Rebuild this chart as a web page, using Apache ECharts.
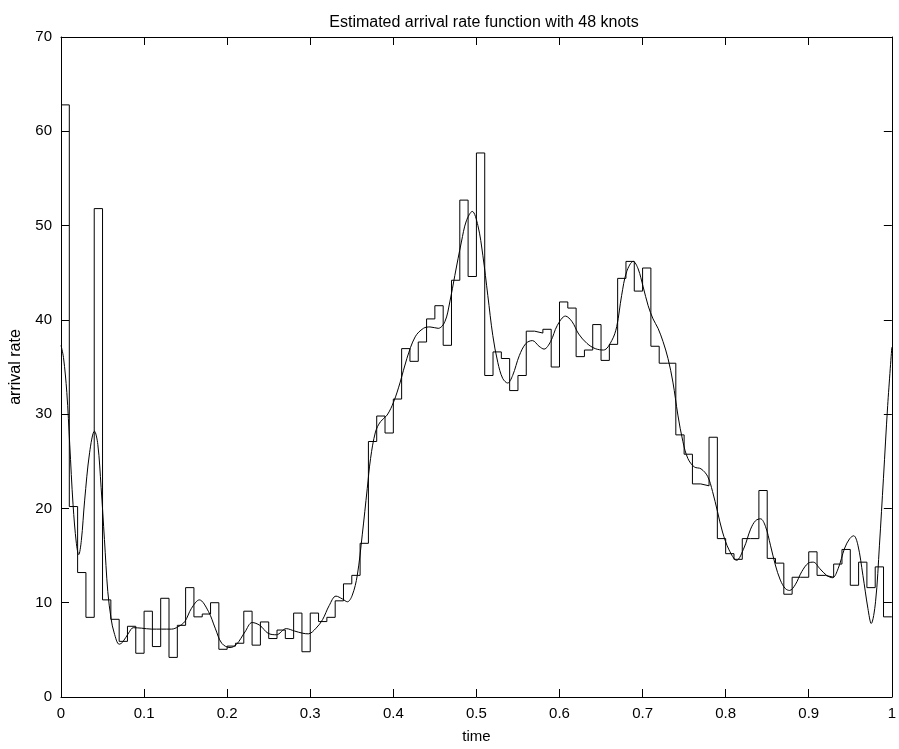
<!DOCTYPE html>
<html>
<head>
<meta charset="utf-8">
<script src="https://cdn.jsdelivr.net/npm/echarts@6/dist/echarts.min.js"></script>
<style>
html,body{margin:0;padding:0;background:#fff;overflow:hidden;}
#chart{width:899px;height:749px;}
</style>
</head>
<body>
<div id="chart"></div>
<script>
// ---- data ----
var titleText = "Estimated arrival rate function with 48 knots";
var xLabel = "time";
var yLabel = "arrival rate";
var binWidth = 0.01;
// histogram-type step estimate, one value per bin of width 0.01 starting at 0
var binValues = [
  62.8, 20.2, 13.2, 8.45, 51.8, 10.3, 8.24, 5.9, 7.5, 4.64,
  9.1, 5.35, 10.47, 4.2, 7.6, 11.6, 8.5, 8.8, 10.0, 5.06,
  5.4, 5.7, 9.1, 5.5, 7.96, 6.2, 7.1, 6.2, 8.9, 4.8,
  8.9, 8.0, 8.45, 10.2, 12.0, 12.9, 16.3, 27.1, 29.8, 28.0,
  31.6, 36.95, 35.6, 37.65, 40.1, 41.5, 37.3, 44.2, 52.7, 44.6,
  57.7, 34.1, 36.6, 35.9, 32.5, 34.1, 38.8, 38.6, 39.0, 35.0,
  41.9, 41.25, 36.1, 36.8, 39.5, 35.7, 37.4, 44.4, 46.2, 43.05,
  45.5, 37.2, 35.4, 35.4, 27.8, 25.75, 22.6, 22.4, 27.55, 16.8,
  15.2, 14.6, 16.8, 16.8, 21.9, 14.7, 14.2, 10.9, 12.7, 12.7,
  15.4, 12.9, 12.7, 14.1, 15.65, 11.85, 14.3, 11.6, 13.8, 8.5
];
// smooth spline estimate
var curveX = [
  0.000, 0.003, 0.007, 0.0105, 0.0145, 0.0185, 0.0213, 0.0245, 0.0284, 0.0344,
  0.0403, 0.0443, 0.0483, 0.0523, 0.0563, 0.0603, 0.064, 0.070, 0.074, 0.0815,
  0.087, 0.097, 0.109, 0.121, 0.133, 0.141, 0.149, 0.157, 0.1665, 0.1776,
  0.1856, 0.1935, 0.2035, 0.2114, 0.2214, 0.2301, 0.2393, 0.2492, 0.2592, 0.2711,
  0.281, 0.291, 0.2977, 0.307, 0.3148, 0.3228, 0.331, 0.3387, 0.3447, 0.3506,
  0.3566, 0.3626, 0.3686, 0.3726, 0.3785, 0.3845, 0.3925, 0.4004, 0.4083, 0.4163,
  0.4263, 0.4362, 0.4441, 0.454, 0.462, 0.468, 0.474, 0.4819, 0.4879, 0.495,
  0.5018, 0.5078, 0.5137, 0.5197, 0.5257, 0.5316, 0.5376, 0.5436, 0.5516, 0.5596,
  0.5674, 0.5754, 0.5814, 0.5893, 0.5973, 0.6072, 0.6152, 0.6231, 0.6331, 0.643,
  0.653, 0.6629, 0.6689, 0.6748, 0.6808, 0.6888, 0.6947, 0.7007, 0.7067, 0.7126,
  0.7186, 0.7246, 0.7306, 0.7365, 0.7425, 0.7485, 0.7545, 0.7623, 0.7703, 0.7783,
  0.7842, 0.7902, 0.7962, 0.8041, 0.8132, 0.822, 0.830, 0.836, 0.8419, 0.8479,
  0.8539, 0.8598, 0.8658, 0.8718, 0.8769, 0.8837, 0.8916, 0.8995, 0.9055, 0.9135,
  0.9215, 0.9286, 0.9353, 0.9433, 0.9493, 0.9541, 0.9592, 0.9652, 0.9712, 0.9752,
  0.9804, 0.9851, 0.9899, 0.995, 1.000
];
var curveY = [
  37.3, 36.0, 32.3, 26.8, 20.4, 16.3, 15.1, 16.6, 20.8, 25.9,
  28.2, 26.8, 22.2, 16.7, 11.2, 8.3, 6.8, 5.6, 5.8, 6.8,
  7.35, 7.3, 7.2, 7.2, 7.2, 7.45, 8.0, 9.4, 10.3, 9.05,
  7.3, 5.7, 5.24, 5.6, 6.9, 7.9, 7.6, 6.76, 6.6, 7.25,
  7.0, 6.76, 6.7, 7.3, 8.2, 9.7, 10.7, 10.4, 10.1, 10.8,
  12.9, 17.2, 22.1, 25.3, 28.1, 29.2, 29.9, 31.3, 33.4, 35.9,
  38.2, 39.1, 39.25, 39.1, 39.8, 41.9, 44.7, 48.25, 50.5, 51.5,
  50.0, 46.8, 42.6, 38.35, 35.5, 33.8, 33.3, 34.1, 36.2, 37.5,
  37.8, 37.2, 36.9, 37.7, 39.4, 40.4, 39.8, 38.5, 37.5, 36.95,
  36.8, 37.8, 39.3, 42.6, 45.1, 46.2, 45.4, 43.5, 41.5, 40.1,
  39.1, 37.7, 35.9, 33.4, 29.9, 27.1, 25.3, 24.4, 24.2, 23.4,
  21.8, 19.65, 17.5, 15.6, 14.5, 15.8, 17.8, 18.7, 18.9, 18.1,
  16.1, 14.0, 12.4, 11.5, 11.3, 11.9, 13.3, 14.2, 14.3, 13.6,
  12.9, 12.65, 13.6, 15.8, 16.8, 17.1, 16.1, 12.9, 9.4, 7.8,
  10.1, 16.1, 23.2, 30.9, 37.1
];

// ---- build series data ----
var stepData = binValues.map(function (v, i) { return [i * binWidth, v]; });
stepData.push([binValues.length * binWidth, binValues[binValues.length - 1]]);
var curveData = curveX.map(function (x, i) { return [x, curveY[i]]; });

var FONT = '"Liberation Sans", Arial, Helvetica, sans-serif';
var axisCommon = {
  axisLine: { show: true, onZero: false, lineStyle: { color: '#000', width: 1 } },
  axisTick: { show: true, inside: true, length: 8, lineStyle: { color: '#000', width: 1 } },
  splitLine: { show: false }
};

var chart = echarts.init(document.getElementById('chart'), null, { renderer: 'canvas', width: 899, height: 749 });
chart.setOption({
  animation: false,
  backgroundColor: '#fff',
  title: {
    text: titleText,
    left: 479, top: 10, textAlign: 'center',
    textStyle: { fontFamily: FONT, fontSize: 16, fontWeight: 'normal', color: '#000' }
  },
  grid: { left: 60, right: 2, top: 37, bottom: 50, containLabel: false },
  xAxis: [
    Object.assign({
      type: 'value', min: 0, max: 1, interval: 0.1, position: 'bottom',
      name: xLabel, nameLocation: 'middle', nameGap: 32,
      nameTextStyle: { fontFamily: FONT, fontSize: 15, color: '#000' },
      axisLabel: { show: true, margin: 9, color: '#000', fontFamily: FONT, fontSize: 15 }
    }, axisCommon),
    Object.assign({
      type: 'value', min: 0, max: 1, interval: 0.1, position: 'top',
      axisLabel: { show: false }
    }, axisCommon)
  ],
  yAxis: [
    Object.assign({
      type: 'value', min: 0, max: 70, interval: 10, position: 'left',
      name: yLabel, nameLocation: 'middle', nameGap: 37, nameRotate: 90,
      nameTextStyle: { fontFamily: FONT, fontSize: 16, color: '#000' },
      axisLabel: { show: true, margin: 9, color: '#000', fontFamily: FONT, fontSize: 15 }
    }, axisCommon),
    Object.assign({
      type: 'value', min: 0, max: 70, interval: 10, position: 'right',
      axisLabel: { show: false }
    }, axisCommon)
  ],
  series: [
    {
      type: 'line', data: stepData, step: 'end', xAxisIndex: 0, yAxisIndex: 0,
      showSymbol: false, symbol: 'none',
      lineStyle: { color: '#000', width: 1 }, z: 3
    },
    {
      type: 'line', data: curveData, smooth: 0.35, xAxisIndex: 0, yAxisIndex: 0,
      showSymbol: false, symbol: 'none',
      lineStyle: { color: '#000', width: 1 }, z: 4
    }
  ]
});
</script>
</body>
</html>
